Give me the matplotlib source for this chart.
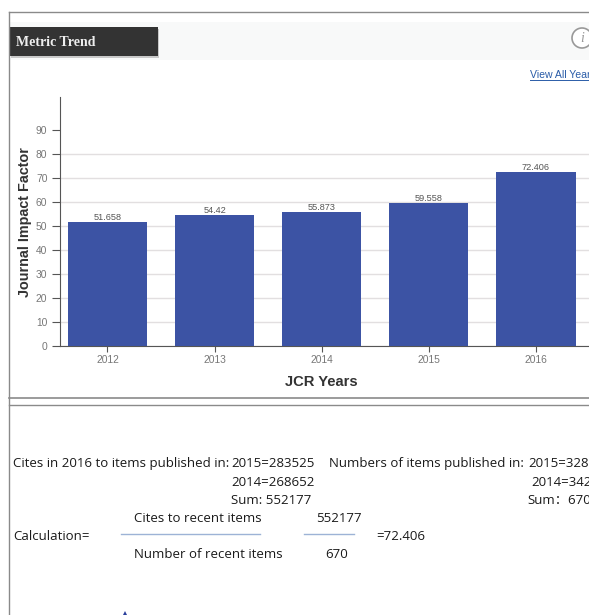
import matplotlib
matplotlib.use('Agg')
import matplotlib.pyplot as plt
import matplotlib.patches as patches

W, H = 589, 615

# Chart data
YEARS = ['2012', '2013', '2014', '2015', '2016']
IMPACT = [51.658, 54.42, 55.873, 59.558, 72.406]
LABELS = ['51.658', '54.42', '55.873', '59.558', '72.406']
Y_TICKS = [0, 10, 20, 30, 40, 50, 60, 70, 80, 90]

BAR_COLOR = '#3c53a4'
TICK_TEXT = '#777777'
LINE_COLOR = '#8a8a8a'
TEXT_COLOR = '#333333'
NOTE_FONT = ['Open Sans', 'Noto Sans CJK SC']

fig = plt.figure(figsize=(W / 100, H / 100), dpi=100, facecolor='white')

# Pixel-space layer for the page furniture and notes
page = fig.add_axes([0, 0, 1, 1])
page.set_xlim(0, W)
page.set_ylim(H, 0)
page.axis('off')

page.plot([9, W], [12, 12], color=LINE_COLOR, lw=1)
page.plot([9, 9], [12, H], color=LINE_COLOR, lw=1)
page.plot([9, W], [398, 398], color=LINE_COLOR, lw=1.2)
page.plot([9, W], [405, 405], color=LINE_COLOR, lw=1)

page.add_patch(patches.Rectangle((9, 22), W - 9, 38, facecolor='#f8f9f9', edgecolor='none'))
page.add_patch(patches.Rectangle((11, 29), 148, 29, facecolor='#c8c8c8', edgecolor='none'))
page.add_patch(patches.Rectangle((9, 27), 149, 29, facecolor='#333333', edgecolor='none'))
page.text(16, 42, 'Metric Trend', family='Liberation Serif', fontweight='bold',
          fontsize=10, color='#eeeeee', ha='left', va='center')
page.add_patch(patches.Ellipse((582, 38), 20, 20, facecolor='white', edgecolor='#999999', lw=1.2))
page.text(582, 38, 'i', family='Liberation Serif', style='italic', fontsize=10,
          color='#999999', ha='center', va='center')
page.text(530, 75, 'View All Years', family='Liberation Sans', fontsize=7.6,
          color='#2a5ca8', ha='left', va='center')
page.plot([530, W], [80, 80], color='#2a5ca8', lw=0.7)

# Formula notes below the chart
note = dict(family=NOTE_FONT, fontsize=9.5, color='#1a1a1a', va='center', ha='left')
page.text(13, 463.5, 'Cites in 2016 to items published in:', **note)
page.text(231, 463.5, '2015=283525', **note)
page.text(329, 463.5, 'Numbers of items published in:', **note)
page.text(528, 463.5, '2015=328', **note)
page.text(231, 482, '2014=268652', **note)
page.text(531, 482, '2014=342', **note)
page.text(231, 500, 'Sum: 552177', **note)
page.text(527, 500, 'Sum：670', **note)
page.text(134, 518, 'Cites to recent items', **note)
page.text(316, 518, '552177', **note)
page.text(13, 536, 'Calculation=', **note)
page.text(376, 536, '=72.406', **note)
page.text(134, 554, 'Number of recent items', **note)
page.text(325, 554, '670', **note)
page.plot([121, 260], [534, 534], color='#9db3d6', lw=1)
page.plot([304, 354], [534, 534], color='#9db3d6', lw=1)
page.add_patch(patches.Polygon([(123, 615), (127, 615), (125, 611)], facecolor='#2a3f9c', edgecolor='none'))

# Bar chart, placed by pixel bounds
left, right, top, bottom = 60, W, 97, 345.5
ax = fig.add_axes([left / W, 1 - bottom / H, (right - left) / W, (bottom - top) / H])
ax.patch.set_alpha(0)
x_pos = list(range(len(YEARS)))
ax.bar(x_pos, IMPACT, width=0.74, color=BAR_COLOR, zorder=3)
ax.set_xlim(-0.443, 4.495)
ax.set_ylim(0, 104)
ax.set_xticks(x_pos, YEARS)
ax.set_yticks(Y_TICKS)
ax.tick_params(axis='x', labelsize=7.4, labelcolor=TICK_TEXT, color='#555555', length=4, pad=3)
ax.tick_params(axis='y', labelsize=7.4, labelcolor=TICK_TEXT, color='#555555', length=6, pad=3)
for lab in ax.get_xticklabels() + ax.get_yticklabels():
    lab.set_family('Liberation Sans')
ax.grid(True, axis='y', color='#e2dfe0', lw=1, zorder=0)
ax.get_ygridlines()[-1].set_visible(False)  # no line at 90 in the original
ax.spines['top'].set_visible(False)
ax.spines['right'].set_visible(False)
ax.spines['left'].set_color('#555555')
ax.spines['bottom'].set_color('#555555')

for x, val, lab in zip(x_pos, IMPACT, LABELS):
    ax.text(x, val + 0.1, lab, ha='center', va='bottom', fontsize=6.6,
            family='Liberation Sans', color='#555555', zorder=4)

page.text(321, 382, 'JCR Years', family='Liberation Sans', fontweight='bold',
          fontsize=10.6, color=TEXT_COLOR, ha='center', va='center')
page.text(25, 222, 'Journal Impact Factor', family='Liberation Sans', fontweight='bold',
          fontsize=10.4, color=TEXT_COLOR, ha='center', va='center', rotation=90)

fig.savefig('out.png', dpi=100, facecolor='white')
plt.close(fig)
